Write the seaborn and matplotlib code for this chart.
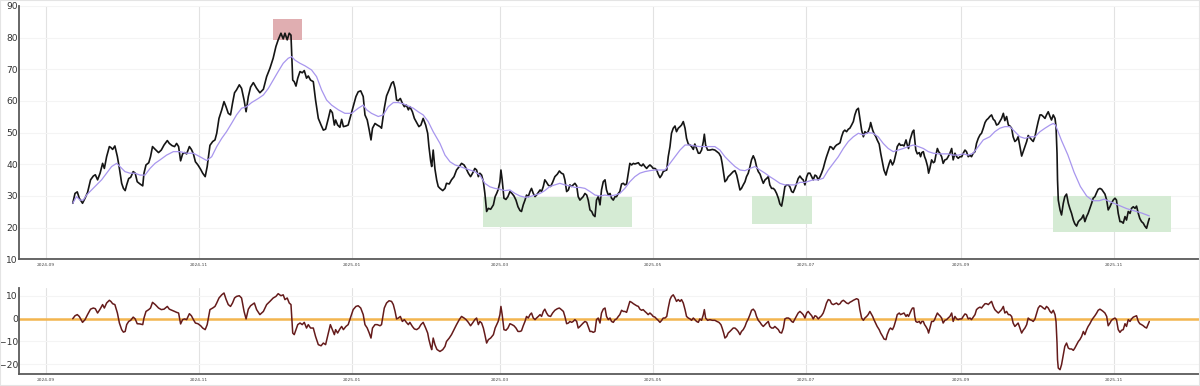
import numpy as np
import pandas as pd
import matplotlib
matplotlib.use("Agg")
import matplotlib.pyplot as plt
import matplotlib.dates as mdates
import seaborn as sns

# ---------------- data (days since 2024-09-01) ----------------
base_date = "2024-09-01"

price_days = [
    10.8, 11.7, 12.6, 13.4, 14.7, 15.7, 16.7, 17.9, 19.0, 19.8, 20.7, 21.7, 22.7, 23.4, 24.3, 25.4, 26.0, 26.7, 27.6, 28.6,
    29.4, 30.3, 31.0, 31.7, 32.3, 33.1, 33.9, 34.9, 35.7, 36.5, 37.6, 38.7, 39.2, 40.0, 41.1, 41.8, 42.6, 43.7, 45.0, 46.1,
    47.2, 48.5, 49.3, 50.4, 51.4, 52.2, 53.0, 53.8, 54.6, 55.4, 56.2, 57.3, 58.1, 58.9, 59.7, 60.7, 61.8, 62.6, 63.6, 64.4,
    65.5, 66.6, 67.5, 68.2, 69.1, 70.2, 71.1, 71.9, 72.8, 73.7, 74.5, 75.3, 76.1, 77.2, 78.1, 79.1, 79.9, 80.8, 81.7, 82.8,
    84.1, 85.4, 86.8, 88.1, 89.4, 90.7, 91.8, 92.7, 93.8, 94.7, 95.4, 96.3, 97.1, 97.8, 98.5, 99.1, 99.8, 100.5, 101.4, 102.3,
    103.1, 104.0, 104.7, 105.6, 106.7, 107.6, 108.7, 109.8, 110.7, 111.6, 112.7, 113.5, 114.3, 115.1, 115.6, 116.4, 117.3, 118.0, 118.7, 119.7,
    120.6, 121.7, 122.6, 123.7, 124.6, 125.6, 126.6, 127.3, 128.2, 129.0, 129.7, 130.3, 131.3, 132.2, 133.3, 133.9, 135.0, 135.9, 136.9, 137.9,
    138.6, 139.3, 139.9, 140.6, 141.4, 142.2, 143.0, 143.8, 144.6, 145.2, 146.2, 147.0, 147.9, 148.8, 149.6, 150.5, 151.5, 152.3, 152.8, 153.5,
    153.9, 154.5, 155.2, 155.9, 156.5, 157.2,
    158.3, 159.2, 159.8, 160.9, 161.8, 162.8, 163.8, 164.9, 165.8, 166.8, 167.6, 168.5, 169.4, 170.2, 171.1, 171.8, 172.5, 173.1, 173.8, 174.5,
    175.1, 175.8, 176.5, 177.4, 178.5, 179.2, 179.8, 180.4, 181.1, 181.5, 182.0, 182.7, 183.5, 184.3, 185.1, 185.9, 186.7, 187.5, 188.3, 189.1,
    189.7, 190.4, 191.1, 191.7, 192.4, 193.1, 193.7, 194.4, 195.1, 195.7, 196.4, 197.1, 197.7, 198.4, 199.0, 199.7, 200.4, 201.3, 202.1, 203.0,
    204.0, 204.8, 205.6, 206.4, 207.0, 207.7, 208.4, 209.0, 209.7, 210.3, 211.0, 211.7, 212.3, 213.0, 213.7, 214.3, 215.0, 215.7, 216.3, 217.0,
    217.7, 218.3, 219.0, 219.6, 220.3, 221.0, 221.6, 222.3, 223.0, 223.6, 224.3, 225.0, 225.6, 226.3, 227.0, 227.6, 228.3, 228.9, 229.6, 230.3,
    230.9, 231.6, 232.3, 232.9, 233.6, 234.3, 234.9, 235.6, 236.3, 236.9, 237.6, 238.2, 238.9, 239.6, 240.2, 240.9, 241.6, 242.2, 242.9, 243.6,
    244.2, 244.9, 245.6, 246.2, 246.9, 247.6, 248.2, 248.9, 249.5, 250.2, 250.9, 251.5, 252.2, 252.9, 253.5, 254.2, 254.9, 255.5, 256.2, 256.9,
    257.5, 258.2, 258.8, 259.5, 260.2, 260.8, 261.5, 262.2, 262.6, 263.1, 263.9, 264.8, 265.8, 266.8, 267.6, 268.4, 269.2, 269.7, 270.3, 270.8,
    271.5, 272.1, 272.8, 273.5, 274.1, 274.8, 275.5, 276.1, 276.8, 277.4, 278.1, 278.8, 279.4, 280.1, 280.8, 281.4, 282.1, 282.8, 283.4, 284.1,
    284.8, 285.4, 286.1, 286.8, 287.4, 288.1, 288.7, 289.4, 290.1, 290.7, 291.4, 292.1, 292.7, 293.4, 294.1, 294.7, 295.4, 296.1, 296.7, 297.4,
    298.0, 298.7, 299.4, 300.0, 300.7, 301.4, 302.0, 302.7, 303.4, 304.0,
    304.7, 305.4, 306.0, 306.7, 307.3, 308.0, 308.7, 309.3, 310.0, 310.7, 311.3, 312.0, 312.7, 313.3, 314.0, 314.7, 315.3, 316.0, 316.7, 317.3,
    318.0, 318.6, 319.3, 320.0, 320.6, 321.3, 322.0, 322.6, 323.3, 324.0, 324.6, 325.3, 326.0, 326.6, 327.3, 327.9, 328.6, 328.9, 329.7, 330.2,
    331.0, 331.5, 332.3, 332.9, 333.7, 334.2, 335.0, 335.5, 336.3, 336.8, 337.6, 338.2, 339.0, 339.5, 340.3, 340.8, 341.6, 342.2, 343.0, 343.5,
    344.0, 344.6, 345.2, 345.6, 346.1, 346.5, 346.9, 347.5, 348.3, 348.8, 349.3, 349.9, 350.4, 350.9, 351.6, 352.0, 352.5, 353.2, 353.9, 354.4,
    354.9, 355.5, 356.0, 356.5, 357.2, 357.8, 358.5, 359.2, 359.8, 360.5, 361.2, 361.8, 362.5, 363.2, 363.8, 364.5, 365.2, 365.8, 366.5, 367.1,
    367.8, 368.5, 369.1, 369.8, 370.5, 371.1, 371.8, 372.5, 373.1, 373.8, 374.5, 375.1, 375.8, 376.4, 377.1,
    377.8, 378.4, 379.1, 379.8, 380.4, 381.1, 381.8, 382.4, 383.1, 383.8, 384.4, 385.1, 385.7, 386.4, 387.1, 387.7, 388.4, 389.1, 389.7, 390.4,
    391.1, 391.7, 392.4, 393.1, 393.7, 394.4, 395.1, 395.7, 396.4, 397.0, 397.7, 398.4, 399.0, 399.7, 400.4, 401.0, 401.7, 402.4, 402.8, 403.2,
    403.4, 403.7, 404.4, 405.0, 405.7, 406.3, 407.0, 407.7, 408.3, 409.0, 409.7, 410.3, 411.0, 411.7, 412.3, 413.0, 413.7, 414.3, 415.0, 415.6,
    416.3, 417.0, 417.6, 418.3, 419.0, 419.6, 420.3, 421.0, 421.6, 422.3, 423.0, 423.6, 424.3, 424.9, 425.6, 426.3, 426.9, 427.6, 428.3, 428.9,
    429.6, 430.3, 430.9, 431.6, 432.3, 432.9, 433.6, 434.3, 434.9, 435.6, 436.2, 436.9, 437.6, 438.2, 438.9, 439.6, 440.0,
]
price_values = [
    27.7, 30.8, 31.3, 29.3, 27.7, 29.3, 31.1, 35.1, 36.3, 36.7, 35.1, 37.2, 40.3, 38.7, 42.4, 45.6, 45.3, 44.7, 45.8, 42.4,
    38.7, 34.0, 32.4, 31.7, 33.5, 35.5, 35.9, 37.7, 37.2, 34.5, 33.8, 33.2, 37.2, 39.8, 40.5, 42.4, 45.6, 44.7, 43.7, 44.5,
    46.1, 47.5, 46.6, 45.9, 45.6, 46.6, 45.6, 41.1, 43.3, 43.7, 43.3, 45.6, 44.7, 43.3, 40.8, 39.8, 38.4, 37.2, 36.1, 39.3,
    46.0, 47.2, 47.7, 49.8, 54.5, 57.2, 59.8, 58.2, 56.1, 55.6, 59.3, 62.6, 63.5, 65.1, 64.0, 60.3, 56.6, 61.4, 64.4, 65.8,
    64.0, 62.6, 63.7, 67.7, 70.3, 73.5, 77.2, 79.3, 81.4, 79.6, 81.4, 79.3, 81.4, 80.8, 66.6, 66.1, 64.7, 67.2, 69.3, 68.9,
    69.6, 67.2, 67.9, 66.6, 66.1, 60.3, 54.5, 52.4, 50.8, 51.1, 54.5, 57.2, 56.3, 52.4, 54.0, 52.4, 51.7, 54.2, 51.9, 52.1,
    52.4, 55.6, 58.2, 61.4, 62.9, 63.2, 61.4, 55.6, 54.0, 50.8, 47.7, 51.4, 52.9, 52.4, 51.9, 51.4, 57.7, 61.6, 63.5, 65.6,
    66.1, 64.0, 60.3, 60.1, 60.8, 59.3, 58.2, 58.7, 57.2, 58.2, 56.6, 54.5, 53.2, 51.9, 52.4, 54.5, 52.4, 49.8, 45.6, 41.0,
    39.3, 44.5, 38.5, 35.0, 33.0, 32.4,
    31.7, 32.4, 34.0, 33.8, 35.1, 36.1, 38.2, 39.3, 40.3, 39.8, 38.7, 37.2, 36.1, 37.2, 38.7, 38.2, 36.1, 37.2, 36.6, 34.5,
    30.8, 25.1, 26.1, 25.8, 27.2, 29.8, 30.8, 32.0, 34.5, 38.2, 35.1, 29.3, 28.9, 29.8, 31.4, 30.8, 30.0, 28.7, 26.6, 25.4,
    25.1, 27.2, 28.7, 30.3, 29.8, 31.4, 32.4, 30.8, 29.8, 30.3, 31.1, 31.9, 31.4, 33.0, 35.1, 34.3, 33.4, 33.0, 34.3, 36.1,
    36.9, 37.9, 37.2, 36.9, 35.1, 31.4, 31.9, 33.5, 33.0, 33.5, 34.0, 33.2, 29.8, 28.7, 29.3, 29.8, 30.8, 30.3, 28.7, 25.6,
    25.1, 24.0, 23.5, 28.7, 29.8, 27.2, 31.9, 34.5, 35.1, 31.9, 30.3, 30.8, 29.3, 28.7, 29.8, 29.8, 30.8, 31.4, 33.8, 34.0,
    33.5, 33.8, 37.2, 40.3, 39.8, 40.3, 40.1, 40.3, 40.5, 39.8, 39.5, 40.1, 39.3, 38.7, 39.3, 39.8, 39.3, 38.7, 38.7, 38.2,
    36.9, 35.8, 36.6, 37.7, 38.0, 38.2, 42.4, 45.6, 49.8, 51.4, 52.1, 50.3, 51.4, 51.9, 52.4, 53.5, 51.4, 48.2, 46.4, 46.1,
    45.6, 44.7, 46.4, 45.0, 43.5, 43.5, 44.5, 47.2, 49.5, 46.1, 44.5, 44.5, 44.7, 44.5, 44.0, 43.5, 42.4, 40.3, 37.2, 34.5,
    35.1, 36.1, 36.6, 37.2, 37.7, 38.0, 36.6, 34.5, 31.9, 32.4, 33.5, 34.5, 36.1, 37.2, 39.3, 41.4, 42.7, 41.4, 39.3, 37.7,
    36.9, 35.5, 34.0, 35.1, 35.5, 36.1, 33.5, 32.4, 32.4, 31.9, 30.8, 29.3, 27.5, 26.8, 29.8, 32.9, 33.5, 33.5, 32.9, 31.4,
    31.1, 32.4, 34.0, 35.5, 36.3, 35.5, 35.1, 33.5, 36.1, 37.2,
    37.2, 36.1, 35.1, 36.6, 36.3, 35.1, 36.1, 37.2, 38.7, 40.8, 42.4, 44.0, 45.6, 45.4, 44.7, 45.6, 46.1, 46.4, 46.8, 48.7,
    50.3, 50.8, 50.3, 51.1, 51.4, 52.4, 53.5, 55.6, 57.2, 57.7, 54.5, 50.8, 48.7, 50.3, 49.8, 50.3, 51.9, 53.2, 50.8, 49.8,
    48.7, 47.7, 46.4, 43.5, 40.3, 38.2, 36.6, 38.2, 40.3, 41.4, 39.8, 40.8, 43.5, 45.6, 46.6, 46.0, 46.1, 45.8, 47.7, 46.1,
    45.0, 47.7, 49.3, 50.3, 50.8, 47.7, 44.5, 43.3, 43.7, 42.4, 43.7, 44.0, 42.4, 41.4, 39.3, 37.2, 38.7, 41.4, 40.5, 40.8,
    42.9, 45.0, 44.0, 43.5, 42.4, 40.3, 41.4, 41.6, 42.4, 43.5, 45.0, 41.4, 43.5, 42.4, 41.9, 42.4, 42.4, 43.5, 44.5, 44.0,
    42.4, 42.9, 42.4, 43.5, 44.0, 46.6, 48.2, 49.3, 49.8, 51.4, 53.2, 54.0, 54.5, 55.1, 55.6,
    54.2, 53.8, 52.4, 52.7, 53.5, 54.5, 56.1, 53.8, 55.1, 52.4, 52.1, 51.4, 48.7, 47.2, 47.7, 48.7, 45.6, 42.6, 44.0, 45.6,
    47.2, 49.1, 48.4, 47.7, 47.2, 48.7, 51.4, 53.5, 55.6, 55.6, 55.1, 54.5, 55.6, 56.6, 55.1, 54.0, 55.6, 54.5, 51.9, 43.5,
    35.1, 28.7, 25.6, 24.0, 27.7, 29.8, 30.6, 27.7, 26.1, 24.5, 22.4, 21.2, 20.5, 21.9, 22.4, 22.9, 24.0, 21.9, 23.5, 24.5,
    26.1, 27.7, 29.3, 29.8, 31.1, 32.1, 32.4, 32.1, 31.4, 30.6, 28.7, 25.6, 26.6, 27.7, 28.7, 29.3, 28.7, 24.5, 21.9, 21.9,
    21.4, 23.5, 22.4, 25.1, 24.5, 26.1, 26.6, 26.1, 26.8, 24.5, 22.9, 21.9, 21.4, 20.5, 19.8, 21.9, 22.9,
]

ma_days = [
    10.8, 12.3, 13.7, 15.0, 16.3, 18.3, 20.3, 22.3, 24.3, 26.3, 28.3, 29.6, 31.6, 33.6, 35.6, 37.6, 39.6, 41.6, 43.6, 45.6,
    48.2, 50.9, 53.5, 56.2, 58.9, 61.5, 64.2, 66.2, 68.2, 70.2, 72.1, 74.1, 76.1, 78.1, 80.1, 82.1, 84.8, 86.8, 88.8, 90.7,
    92.7, 94.7, 96.7, 98.1, 99.4, 101.4, 103.4, 106.0, 108.0, 110.0, 112.0, 114.0, 116.7, 119.3, 122.0, 124.6, 126.6, 128.0, 129.9, 132.6,
    134.6, 136.6, 138.6, 140.6, 142.6, 144.6, 146.6, 148.5, 150.5, 152.5, 154.5, 157.2, 159.2, 161.2, 163.2, 165.2, 167.2, 169.2, 171.1, 173.1,
    175.1, 177.1, 179.1, 181.1, 183.1, 185.1, 187.1, 189.1, 191.1, 193.1, 195.1, 197.1, 199.0, 201.0, 203.0, 205.0, 207.0, 209.0, 211.0, 213.0,
    215.0, 217.0, 219.0, 221.0, 223.0, 225.0, 227.0, 228.9, 230.9, 232.9, 234.9, 236.9, 238.9, 240.9, 242.9, 244.9, 246.9, 248.9, 250.9, 252.9,
    254.9, 256.9, 258.8, 260.8, 262.8, 264.8, 266.8, 268.8, 270.8, 272.8, 274.8, 276.8, 278.8, 280.8, 282.8, 284.8, 286.8, 288.7, 290.7, 292.7,
    294.7, 296.7, 298.7, 300.7, 302.7, 306.0, 308.0, 310.0, 312.0, 314.0, 316.0, 318.0, 320.0, 322.0, 324.0, 326.0, 327.9, 329.9, 331.9, 333.9,
    335.9, 337.9, 339.9, 341.9, 343.9, 345.9, 347.9, 349.9, 351.9, 353.9, 355.9, 357.8, 359.8, 361.8, 363.8, 365.8, 367.8, 369.8, 371.8, 373.8,
    376.4, 378.4, 380.4, 382.4, 384.4, 386.4, 388.4, 390.4, 392.4, 394.4, 396.4, 398.4, 400.4, 401.7, 402.6, 405.0, 407.5, 410.0, 412.5, 415.0,
    417.5, 420.0, 422.0, 425.0, 428.0, 431.0, 434.0, 437.0, 440.0,
]
ma_values = [
    27.7, 29.8, 28.7, 28.7, 30.3, 31.9, 33.5, 35.1, 37.2, 39.3, 40.3, 39.3, 37.7, 37.2, 37.2, 36.6, 36.6, 38.7, 40.3, 41.4,
    42.9, 44.0, 44.0, 43.5, 43.5, 42.4, 41.2, 42.4, 45.6, 48.2, 50.3, 52.9, 55.6, 57.7, 58.2, 59.5, 60.8, 61.9, 64.0, 66.6,
    69.3, 71.9, 73.5, 74.0, 72.9, 71.9, 71.1, 69.8, 67.7, 63.5, 60.3, 58.7, 57.2, 56.1, 56.1, 57.7, 58.7, 57.2, 56.1, 55.1,
    55.6, 58.2, 59.5, 59.5, 59.1, 58.4, 57.7, 56.6, 55.6, 53.5, 50.3, 46.6, 42.9, 40.8, 39.8, 39.3, 38.7, 38.2, 37.7, 36.6,
    34.0, 32.9, 32.4, 32.1, 31.7, 31.9, 30.8, 30.0, 29.6, 29.8, 30.3, 30.8, 31.7, 33.0, 33.5, 34.0, 33.5, 33.2, 32.7, 32.7,
    32.4, 31.4, 30.3, 30.0, 30.3, 30.0, 30.3, 30.8, 32.4, 34.5, 36.1, 37.2, 37.7, 38.0, 38.2, 38.2, 38.2, 40.3, 42.4, 44.5,
    46.1, 46.1, 45.8, 45.6, 45.6, 45.6, 45.6, 44.5, 42.4, 40.8, 39.3, 38.2, 38.0, 38.7, 39.3, 38.2, 37.2, 36.1, 35.1, 34.0,
    33.5, 33.5, 33.5, 34.3, 34.3, 35.1, 35.1, 35.6, 38.2, 40.3, 42.4, 45.0, 47.2, 48.7, 49.8, 49.3, 50.0, 49.8, 48.7, 46.6,
    45.0, 44.0, 44.5, 45.0, 45.6, 46.1, 45.6, 45.0, 44.0, 43.5, 43.3, 43.3, 43.3, 42.9, 42.9, 43.3, 42.9, 43.5, 45.6, 47.7,
    48.7, 50.3, 51.4, 51.9, 51.9, 50.3, 48.7, 48.2, 48.7, 48.7, 50.3, 51.4, 52.4, 52.9, 52.4, 47.5, 43.0, 37.5, 33.0, 30.0,
    28.5, 28.5, 29.0, 28.0, 27.0, 26.0, 25.3, 24.6, 23.7,
]

osc_days = [
    10.8, 11.7, 12.6, 13.4, 14.7, 15.7, 16.7, 17.9, 19.0, 19.8, 20.7, 21.7, 22.7, 23.4, 24.3, 25.4, 26.0, 26.7, 27.6, 28.6,
    29.4, 30.3, 31.0, 31.7, 32.3, 33.1, 33.9, 34.9, 35.7, 36.5, 37.6, 38.7, 39.2, 40.0, 41.1, 41.8, 42.6, 43.7, 45.0, 46.1,
    47.2, 48.5, 49.3, 50.4, 51.4, 52.2, 53.0, 53.8, 54.6, 55.4, 56.2, 57.3, 58.1, 58.9, 59.7, 60.7, 61.8, 62.6, 63.6, 64.4,
    65.5, 66.6, 67.5, 68.2, 69.1, 70.2, 71.1, 71.9, 72.8, 73.7, 74.5, 75.3, 76.1, 77.2, 78.1, 79.1, 79.9, 80.8, 81.7, 82.8,
    83.2, 84.1, 85.4, 86.8, 88.1, 89.4, 90.7, 91.8, 92.7, 93.8, 94.7, 95.4, 96.3, 97.1, 97.8, 98.5, 99.1, 99.8, 100.5, 101.4,
    102.3, 103.1, 104.0, 104.7, 105.6, 106.7, 107.6, 108.7, 109.8, 110.7, 111.6, 112.7, 113.5, 114.3, 115.1, 115.6, 116.4, 117.3, 118.0, 118.7,
    119.7, 120.6, 121.7, 122.6, 123.7, 124.6, 125.6, 126.6, 127.3, 128.2, 129.0, 129.7, 130.3, 131.3, 132.2, 133.3, 133.9, 135.0, 135.9, 136.9,
    137.9, 138.6, 139.3, 139.9, 140.6, 141.4, 142.2, 143.0, 143.8, 144.6, 145.2, 146.2, 147.0, 147.9, 148.8, 149.6, 150.5, 151.5, 152.3, 152.8,
    153.5, 153.9, 154.5, 155.2, 155.9,
    156.1, 157.2, 158.3, 159.2, 159.8, 160.9, 161.8, 162.8, 163.8, 164.9, 165.8, 166.8, 167.6, 168.5, 169.4, 170.2, 171.1, 171.8, 172.5, 173.1,
    173.8, 174.5, 175.1, 175.8, 176.5, 177.4, 178.5, 179.2, 179.8, 180.4, 181.1, 181.5, 182.0, 182.7, 183.5, 184.3, 185.1, 185.9, 186.7, 187.5,
    188.3, 189.1, 189.7, 190.4, 191.1, 191.7, 192.4, 193.1, 193.7, 194.4, 195.1, 195.7, 196.4, 197.1, 197.7, 198.4, 199.0, 199.7, 200.4, 201.3,
    202.1, 203.0, 204.0, 204.8, 205.6, 206.4, 207.0, 207.7, 208.4, 209.0, 209.7, 210.3, 211.0, 211.7, 212.3, 213.0, 213.7, 214.3, 215.0, 215.7,
    216.3, 217.0, 217.7, 218.3, 219.0, 219.6, 220.3, 221.0, 221.6, 222.3, 223.0, 223.6, 224.3, 225.0, 225.6, 226.3, 227.0, 227.6, 228.3, 228.9,
    229.6, 230.3,
    230.9, 231.6, 232.3, 232.9, 233.6, 234.3, 234.9, 235.6, 236.3, 236.9, 237.6, 238.2, 238.9, 239.6, 240.2, 240.9, 241.6, 242.2, 242.9, 243.6,
    244.2, 244.9, 245.6, 246.2, 246.9, 247.6, 248.2, 248.9, 249.5, 250.2, 250.9, 251.5, 252.2, 252.9, 253.5, 254.2, 254.9, 255.5, 256.2, 256.9,
    257.5, 258.2, 258.8, 259.5, 260.2, 260.8, 261.5, 262.2, 262.6, 263.1, 263.9, 264.8, 265.8, 266.8, 267.6, 268.4, 269.2, 269.7, 270.3, 270.8,
    271.5, 272.1, 272.8, 273.5, 274.1, 274.8, 275.5, 276.1, 276.8, 277.4, 278.1, 278.8, 279.4, 280.1, 280.8, 281.4, 282.1, 282.8, 283.4, 284.1,
    284.8, 285.4, 286.1, 286.8, 287.4, 288.1, 288.7, 289.4, 290.1, 290.7, 291.4, 292.1, 292.7, 293.4, 294.1, 294.7, 295.4, 296.1, 296.7, 297.4,
    298.0, 298.7, 299.4, 300.0, 300.7, 301.4, 302.0, 302.7, 303.4, 304.0,
    304.7, 305.4, 306.0, 306.7, 307.3, 308.0, 308.7, 309.3, 310.0, 310.7, 311.3, 312.0, 312.7, 313.3, 314.0, 314.7, 315.3, 316.0, 316.7, 317.3,
    318.0, 318.6, 319.3, 320.0, 320.6, 321.3, 322.0, 322.6, 323.3, 324.0, 324.6, 325.3, 326.0, 326.6, 327.3, 327.9, 328.6, 329.7, 330.2, 331.0,
    331.5, 332.3, 332.9, 333.7, 334.2, 335.0, 335.5, 336.3, 336.8, 337.6, 338.2, 339.0, 339.5, 340.3, 340.8, 341.6, 342.2, 343.0, 343.5, 344.0,
    344.6, 345.2, 345.6, 346.1, 346.5, 346.9, 347.5, 348.3, 348.8, 349.3, 349.9, 350.4, 350.9, 351.6, 352.0, 352.5, 353.2, 353.9, 354.4, 354.9,
    355.5, 356.0, 356.5, 357.2, 357.8, 358.5, 359.2, 359.8, 360.5, 361.2, 361.8, 362.5, 363.2, 363.8, 364.5, 365.2, 365.8, 366.5, 367.1, 367.8,
    368.5, 369.1, 369.8, 370.5, 371.1, 371.8, 372.5, 373.1, 373.8, 374.5, 375.1, 375.8, 376.4, 377.1,
    377.8, 378.4, 379.1, 379.8, 380.4, 381.1, 381.8, 382.4, 383.1, 383.8, 384.4, 385.1, 385.7, 386.4, 387.1, 387.7, 388.4, 389.1, 389.7, 390.4,
    391.1, 391.7, 392.4, 393.1, 393.7, 394.4, 395.1, 395.7, 396.4, 397.0, 397.7, 398.4, 399.0, 399.7, 400.4, 401.0, 401.7, 402.4, 402.8, 403.2,
    403.4, 403.7, 404.4, 405.0, 405.7, 406.3, 407.0, 407.7, 408.3, 409.0, 409.7, 410.3, 411.0, 411.7, 412.3, 413.0, 413.7, 414.3, 415.0, 415.6,
    416.3, 417.0, 417.6, 418.3, 419.0, 419.6, 420.3, 421.0, 421.6, 422.3, 423.0, 423.6, 424.3, 424.9, 425.6, 426.3, 426.9, 427.6, 428.3, 428.9,
    429.6, 430.3, 430.9, 431.6, 432.3, 432.9, 433.6, 434.3, 434.9, 435.6, 436.2, 436.9, 437.6, 438.2, 438.9, 439.6, 440.0,
]
osc_values = [
    0.0, 1.3, 1.8, 1.0, -1.6, -0.4, 1.8, 4.2, 4.7, 4.4, 2.5, 4.2, 6.2, 4.7, 6.9, 8.1, 7.6, 6.6, 6.2, 2.5,
    -1.9, -4.8, -5.9, -5.6, -2.6, -1.2, -0.7, 0.7, -0.1, -2.2, -2.3, -2.6, 0.3, 3.2, 4.0, 4.7, 7.2, 6.2, 4.7, 4.0,
    4.2, 5.4, 4.2, 3.7, 3.2, 2.8, 2.5, -2.3, -0.4, -0.1, -0.4, 2.2, 1.3, -0.4, -1.9, -2.2, -3.1, -4.1, -4.8, -2.6,
    4.0, 4.7, 5.4, 6.9, 9.1, 10.5, 11.3, 8.6, 6.2, 5.4, 6.9, 9.1, 9.8, 10.1, 9.1, 3.2, -0.1, 4.2, 5.7, 6.6,
    6.9, 4.0, 1.8, 3.2, 6.2, 7.6, 9.1, 9.8, 11.0, 10.1, 10.5, 8.4, 9.1, 6.9, 6.2, -6.3, -7.0, -4.8, -2.6, -1.9,
    -2.6, -1.6, -4.1, -2.6, -4.1, -4.1, -7.8, -11.4, -11.9, -10.7, -11.4, -6.3, -2.6, -4.8, -7.0, -4.8, -6.3, -4.5, -3.4, -4.8,
    -3.4, -2.6, 1.0, 4.0, 5.4, 5.7, 4.7, 1.8, -2.6, -4.1, -6.3, -8.5, -4.1, -2.6, -2.6, -3.1, -2.6, 4.7, 6.9, 7.9,
    7.6, 6.2, 3.2, -0.1, 0.3, 1.0, -1.2, -0.4, -1.6, -2.6, -1.6, -3.4, -4.5, -4.8, -4.1, -2.6, -1.6, -4.1, -6.3, -9.2,
    -12.2, -13.6, -8.5, -11.4, -13.3,
    -13.6, -14.4, -13.6, -12.2, -10.0, -8.5, -7.0, -4.8, -2.6, -0.4, 1.0, 0.3, -0.4, -1.6, -3.1, -1.9, -0.4, 0.3, -2.6, -1.2,
    -1.9, -4.1, -7.0, -10.7, -9.2, -8.5, -7.0, -4.1, -2.6, -1.2, 1.8, 5.4, 1.8, -4.8, -5.1, -4.1, -2.2, -2.6, -3.1, -4.1,
    -5.6, -5.6, -5.3, -3.1, -1.2, 1.0, 0.3, 1.8, 2.5, 0.3, -0.4, 0.3, 1.0, 1.8, 1.0, 3.2, 4.2, 2.5, 1.3, 1.0,
    2.5, 3.7, 4.4, 4.7, 4.0, 3.2, 1.0, -2.2, -1.9, -1.2, -1.6, -1.2, -0.4, -1.2, -4.1, -3.4, -2.6, -1.9, -1.2, -1.6,
    -3.4, -5.6, -5.6, -6.0, -5.6, -0.4, 0.3, -1.9, 2.5, 4.2, 4.7, 1.0, -0.4, 0.3, -1.2, -1.6, -0.4, -0.1, 1.0, 1.8,
    3.7, 3.2,
    3.2, 2.8, 5.4, 7.6, 7.2, 6.6, 6.2, 5.7, 5.4, 4.2, 3.7, 4.0, 3.2, 2.5, 1.8, 2.5, 1.8, 1.0, 0.7, -0.1,
    -0.7, -1.6, -0.7, 0.3, 0.3, 1.0, 4.7, 8.4, 9.8, 10.5, 9.1, 7.6, 8.4, 7.6, 8.4, 6.9, 4.0, 1.0, 0.3, -0.1,
    -0.7, 0.3, -0.4, -1.2, -1.6, -0.1, -0.7, 1.8, 4.0, 0.3, -0.7, -0.4, -0.7, -0.7, -1.2, -1.6, -2.6, -4.1, -6.3, -8.5,
    -7.8, -6.3, -5.6, -4.8, -4.1, -4.1, -4.8, -5.6, -7.0, -5.6, -4.8, -3.4, -1.6, -0.1, 1.8, 3.7, 4.2, 3.2, 1.0, -0.7,
    -1.6, -2.6, -3.4, -2.6, -1.9, -1.2, -3.4, -4.1, -4.1, -3.4, -4.1, -4.8, -6.0, -6.3, -4.1, -0.1, 0.3, 0.3, -0.1, -1.2,
    -1.6, -0.1, 1.3, 2.5, 3.2, 2.5, 1.8, 0.3, 2.5, 3.2,
    2.2, 1.3, -0.1, 1.3, 1.0, -0.1, 0.7, 1.3, 2.5, 4.7, 6.9, 8.4, 8.1, 6.6, 6.2, 6.6, 6.9, 6.2, 6.6, 7.6,
    8.1, 7.6, 6.9, 6.6, 7.2, 7.6, 8.1, 8.4, 8.8, 8.4, 4.0, 0.3, -0.7, 0.3, 1.0, 1.8, 3.2, 1.0, -0.4, -2.2,
    -3.4, -4.8, -6.3, -7.8, -8.9, -9.2, -7.0, -4.8, -4.1, -4.8, -3.4, -0.4, 1.8, 2.5, 1.8, 2.2, 2.5, 1.0, 1.8, 1.0,
    2.5, 4.0, 4.7, 4.7, 1.0, -1.2, -1.6, -1.2, -2.2, -1.2, -1.2, -2.6, -3.4, -4.8, -6.3, -4.1, -1.2, -1.2, -0.4, 1.0,
    2.5, 1.8, 1.3, 0.3, -1.9, -0.7, -0.4, 0.3, 1.0, 2.5, -1.2, 1.0, -0.1, -0.4, -0.1, -0.1, 1.0, 2.1, 1.8, -0.1,
    0.3, -0.4, 0.7, 1.8, 4.0, 4.7, 5.1, 4.7, 5.7, 6.6, 6.6, 6.2, 6.9, 7.6,
    5.4, 4.0, 3.2, 2.5, 3.2, 4.0, 5.4, 2.5, 3.2, 1.8, 1.8, 1.0, -1.9, -3.4, -2.6, -1.9, -4.1, -6.3, -5.1, -4.1,
    -2.6, 0.3, -0.4, -0.7, -1.2, -0.1, 2.5, 4.7, 5.7, 5.4, 4.7, 4.2, 5.4, 4.7, 3.2, 2.5, 3.7, 1.8, -1.2, -10.7,
    -18.0, -21.7, -22.4, -20.2, -15.8, -12.2, -10.7, -12.9, -13.3, -13.3, -13.9, -12.9, -11.4, -10.0, -9.2, -7.8, -5.6, -7.0, -4.8, -3.4,
    -2.2, -0.7, 0.3, 1.3, 2.5, 3.7, 4.2, 3.7, 3.2, 2.5, 1.0, -3.1, -1.9, -0.7, -0.1, 0.3, -0.4, -4.8, -6.0, -5.1,
    -4.8, -2.2, -3.4, -0.4, -1.2, -0.1, 0.7, 1.0, 1.3, -1.2, -2.2, -2.6, -3.1, -3.7, -4.1, -2.2, -1.2,
]

# highlighted zones: (start day, end day, low, high)
zone_names = ["peak", "low1", "low2", "low3"]
zone_start = [90.7, 174.5, 281.7, 401.6]
zone_end = [102.1, 233.6, 305.4, 448.5]
zone_low = [79.2, 20.3, 21.0, 18.7]
zone_high = [85.9, 29.8, 30.0, 30.0]
zone_kind = ["top", "bottom", "bottom", "bottom"]

top_yticks = [10, 20, 30, 40, 50, 60, 70, 80, 90]
bottom_yticks = [-20, -10, 0, 10]

# ---------------- helpers ----------------
base = pd.Timestamp(base_date)


def to_dates(days):
    return base + pd.to_timedelta(np.asarray(days, dtype=float), unit="D")


price_df = pd.DataFrame({"date": to_dates(price_days), "value": price_values})
ma_df = pd.DataFrame({"date": to_dates(ma_days), "value": ma_values})
osc_df = pd.DataFrame({"date": to_dates(osc_days), "value": osc_values})

sns.set_theme(style="white")
plt.rcParams["font.family"] = ["DejaVu Sans"]

fig = plt.figure(figsize=(12, 3.86), dpi=100)
ax1 = fig.add_axes([0.0161, 0.3282, 0.9839, 0.6563])
ax2 = fig.add_axes([0.0161, 0.0311, 0.9839, 0.2228])

zone_colors = {"top": "#e0aeb1", "bottom": "#d5ebd4"}
for s, e, lo, hi, k in zip(zone_start, zone_end, zone_low, zone_high, zone_kind):
    ax1.fill_between(to_dates([s, e]), lo, hi, color=zone_colors[k], lw=0, zorder=1)

sns.lineplot(data=price_df, x="date", y="value", ax=ax1, color="#151515", linewidth=1.2, zorder=3)
sns.lineplot(data=ma_df, x="date", y="value", ax=ax1, color="#a896ee", linewidth=0.9, zorder=4)

ax2.axhline(0, color="#f3b54f", linewidth=1.8, zorder=2)
sns.lineplot(data=osc_df, x="date", y="value", ax=ax2, color="#651b1b", linewidth=1.1, zorder=3)

xlim = to_dates([-10.5, 460.2])
for ax in (ax1, ax2):
    ax.set_xlim(xlim[0], xlim[1])
    ax.xaxis.set_major_locator(mdates.MonthLocator(bymonth=[1, 3, 5, 7, 9, 11]))
    ax.xaxis.set_major_formatter(mdates.DateFormatter("%Y-%m"))
    ax.set_xlabel("")
    ax.set_ylabel("")
    for side in ("top", "right"):
        ax.spines[side].set_visible(False)
    for side in ("left", "bottom"):
        ax.spines[side].set_color("#5a5a5a")
        ax.spines[side].set_linewidth(1.3)
    ax.grid(axis="x", color="#e2e2e2", linewidth=0.8)
    ax.grid(axis="y", color="#f4f4f4", linewidth=0.8)
    ax.set_axisbelow(True)
    ax.tick_params(axis="x", direction="in", length=3, width=0.6, color="#555555",
                   labelsize=3.2, labelcolor="#444444", pad=3)
    ax.tick_params(axis="y", direction="in", length=3, width=0.6, color="#555555",
                   labelsize=6.6, labelcolor="#333333", pad=1)
    ax.set_facecolor("white")

ax1.set_ylim(10, 90)
ax1.set_yticks(top_yticks)
ax2.set_ylim(-24.3, 13.5)
ax2.set_yticks(bottom_yticks)

fig.add_artist(plt.Rectangle((0, 0), 1, 1, transform=fig.transFigure, fill=False,
                             edgecolor="#e4e4e4", linewidth=1.5))

fig.savefig("out.png", dpi=100)
